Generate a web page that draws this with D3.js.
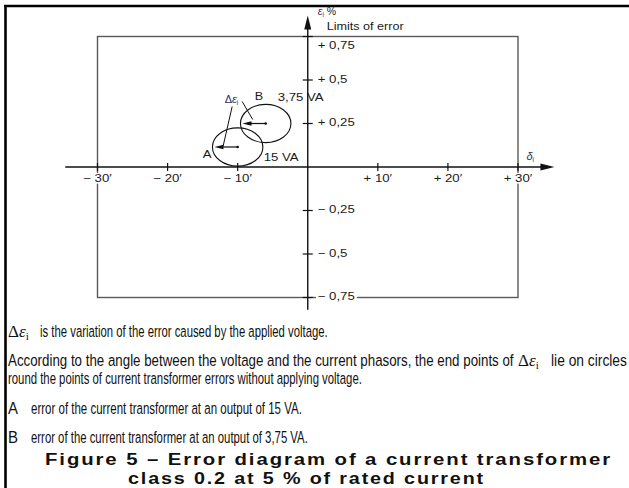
<!DOCTYPE html>
<html>
<head>
<meta charset="utf-8">
<script src="https://cdn.jsdelivr.net/npm/d3@7"></script>
<style>
  html, body { margin: 0; padding: 0; background: #fff; }
  svg { display: block; }
</style>
</head>
<body>
<script>
// Error diagram of a class 0.2 current transformer at 5 % of rated current
// δi (phase displacement, minutes) on x, εi (ratio error, %) on y.

const deltaTicks = [-30, -20, -10, 10, 20, 30];
const deltaTickLabels = ["− 30′", "− 20′", "− 10′", "+ 10′", "+ 20′", "+ 30′"];
const epsTicks = [0.75, 0.5, 0.25, -0.25, -0.5, -0.75];
const epsTickLabels = ["+ 0,75", "+ 0,5", "+ 0,25", "− 0,25", "− 0,5", "− 0,75"];

// limits of error (±30′, ±0,75 %)
const limitDelta = 30;
const limitEps = 0.75;

// current transformer errors without applied voltage
const pointNames = ["A", "B"];
const pointOutputs = ["15 VA", "3,75 VA"];
const pointDelta = [-10, -6];
const pointEps = [0.115, 0.25];
// radius of the Δεi circles, in minutes and in percent
const radiusDelta = 3.6;
const radiusEps = 0.11;

// axis extents
const deltaAxisExtent = [-34.6, 35.2];
const epsAxisExtent = [-0.82, 0.87];

const W = 629, H = 488;
const svg = d3.select("body").append("svg").attr("width", W).attr("height", H);

const x = d3.scaleLinear().domain([-30, 30]).range([97.5, 518]);
const y = d3.scaleLinear().domain([-0.75, 0.75]).range([297.5, 36.5]);

const chartFont = "'Liberation Sans', Arial, Helvetica, sans-serif";
const stretch = 1.2;

// page frame
svg.append("line").attr("x1", 4).attr("x2", W).attr("y1", 6).attr("y2", 6)
  .attr("stroke", "#000").attr("stroke-width", 2.6);
svg.append("line").attr("x1", 5.5).attr("x2", 5.5).attr("y1", 5).attr("y2", H)
  .attr("stroke", "#000").attr("stroke-width", 2.6);

// limits of error rectangle
svg.append("rect")
  .attr("x", x(-limitDelta)).attr("y", y(limitEps))
  .attr("width", x(limitDelta) - x(-limitDelta))
  .attr("height", y(-limitEps) - y(limitEps))
  .attr("fill", "none").attr("stroke", "#5a5a5a").attr("stroke-width", 1.4);

const x0 = x(0), y0 = y(0);

// axes
svg.append("line").attr("x1", x(deltaAxisExtent[0])).attr("x2", x(deltaAxisExtent[1]) - 6)
  .attr("y1", y0).attr("y2", y0).attr("stroke", "#111").attr("stroke-width", 1.4);
svg.append("path")
  .attr("d", `M${x(deltaAxisExtent[1])},${y0} l-14,-3.5 l0,7 z`).attr("fill", "#111");
svg.append("line").attr("x1", x0).attr("x2", x0)
  .attr("y1", y(epsAxisExtent[0])).attr("y2", y(epsAxisExtent[1]) + 6)
  .attr("stroke", "#111").attr("stroke-width", 1.4);
svg.append("path")
  .attr("d", `M${x0},${y(epsAxisExtent[1])} l-3.5,14 l7,0 z`).attr("fill", "#111");

// stretched label helper
function label(parent, px, py, txt, opts = {}) {
  const g = parent.append("g")
    .attr("transform", `translate(${px},${py}) scale(${opts.sx || stretch},1)`);
  const t = g.append("text")
    .attr("font-family", opts.family || chartFont)
    .attr("font-size", opts.size || 11)
    .attr("fill", opts.fill || "#1a1a1a")
    .attr("text-anchor", opts.anchor || "start")
    .attr("dominant-baseline", "middle")
    .text(txt);
  if (opts.italic) t.attr("font-style", "italic");
  if (opts.bg) {
    const b = t.node().getBBox();
    g.insert("rect", "text")
      .attr("x", b.x - 1.5).attr("y", b.y + 1)
      .attr("width", b.width + 3).attr("height", b.height - 2)
      .attr("fill", "#fff");
  }
  return g;
}

// delta ticks and labels
const xt = svg.append("g");
deltaTicks.forEach((d, i) => {
  xt.append("line").attr("x1", x(d)).attr("x2", x(d))
    .attr("y1", y0 - 4).attr("y2", y0 + 4).attr("stroke", "#111").attr("stroke-width", 1.2);
  label(xt, x(d), y0 + 12, deltaTickLabels[i], { anchor: "middle", bg: true });
});

// eps ticks and labels
const yt = svg.append("g");
epsTicks.forEach((e, i) => {
  yt.append("line").attr("x1", x0 - 5).attr("x2", x0 + 5)
    .attr("y1", y(e)).attr("y2", y(e)).attr("stroke", "#111").attr("stroke-width", 1.2);
  const dy = e === limitEps ? 9.5 : 0;
  label(yt, x0 + 10, y(e) + dy, epsTickLabels[i], { bg: true });
});

// axis titles
const ax = svg.append("g");
const epsTitle = ax.append("text").attr("x", x0 + 10).attr("y", 15)
  .attr("font-family", chartFont).attr("font-size", 10.5).attr("fill", "#2a2f6a");
epsTitle.append("tspan").attr("font-style", "italic").text("ε");
epsTitle.append("tspan").attr("font-size", 6.5).attr("dy", 2).text("i");
epsTitle.append("tspan").attr("dy", -2).attr("fill", "#222").text("  %");
label(ax, x0 + 19, 27, "Limits of error", { size: 10.5 });
const deltaTitle = ax.append("text").attr("x", x(31.2)).attr("y", y0 - 7)
  .attr("font-family", chartFont).attr("font-size", 11).attr("fill", "#2a2f6a");
deltaTitle.append("tspan").attr("font-style", "italic").text("δ");
deltaTitle.append("tspan").attr("font-size", 6.5).attr("dy", 2).text("i");

// error points with Δεi circles and phasors
const pts = svg.append("g");
pointNames.forEach((n, i) => {
  const cx = x(pointDelta[i]), cy = y(pointEps[i]);
  const rx = x(pointDelta[i] + radiusDelta) - cx;
  const ry = cy - y(pointEps[i] + radiusEps);
  pts.append("ellipse").attr("cx", cx).attr("cy", cy).attr("rx", rx).attr("ry", ry)
    .attr("fill", "none").attr("stroke", "#111").attr("stroke-width", 1.1);
  const tip = x(pointDelta[i] - radiusDelta) + 2;
  pts.append("line").attr("x1", cx).attr("x2", tip + 6).attr("y1", cy).attr("y2", cy)
    .attr("stroke", "#111").attr("stroke-width", 1.2);
  pts.append("path").attr("d", `M${tip},${cy} l9,-2.2 l0,4.4 z`).attr("fill", "#111");
  pts.append("circle").attr("cx", cx).attr("cy", cy).attr("r", 1.3).attr("fill", "#111");
});

// annotations
const aA = [x(pointDelta[0]), y(pointEps[0])];
const aB = [x(pointDelta[1]), y(pointEps[1])];
label(pts, aA[0] - 35, aA[1] + 8, pointNames[0], { size: 11 });
label(pts, aA[0] + 26, aA[1] + 11, pointOutputs[0], { size: 11 });
label(pts, aB[0] - 11, aB[1] - 26, pointNames[1], { size: 10.5 });
label(pts, aB[0] + 12, aB[1] - 25, pointOutputs[1], { size: 11 });
const dl = pts.append("text").attr("x", aA[0] - 13).attr("y", aB[1] - 21)
  .attr("font-family", chartFont)
  .attr("font-size", 11).attr("fill", "#2a2f6a");
dl.append("tspan").text("Δ");
dl.append("tspan").attr("font-style", "italic").text("ε");
dl.append("tspan").attr("font-size", 6.5).attr("dy", 2).text("i");
pts.append("line").attr("x1", aA[0] - 5.5).attr("y1", aB[1] - 17)
  .attr("x2", aA[0] - 14.5).attr("y2", aA[1] - 1).attr("stroke", "#111").attr("stroke-width", 1);
pts.append("line").attr("x1", aA[0] + 4.5).attr("y1", aB[1] - 22)
  .attr("x2", aB[0] - 13).attr("y2", aB[1] - 4).attr("stroke", "#111").attr("stroke-width", 1);

// explanatory text
const narrow = "'Liberation Sans Narrow', 'Arial Narrow', 'Liberation Sans', Arial, sans-serif";
const serif = "'Liberation Serif', 'Times New Roman', serif";
const notes = svg.append("g").attr("fill", "#111");

function deltaEps(px, py) {
  const t = notes.append("text").attr("x", px).attr("y", py)
    .attr("font-family", serif).attr("font-size", 17);
  t.append("tspan").text("Δ");
  t.append("tspan").attr("font-style", "italic").text("ε");
  t.append("tspan").attr("font-size", 11).attr("dy", 3).text("i");
}
// a line of text squeezed horizontally to the given width
function note(px, py, txt, len, size = 16.5) {
  const g = notes.append("g");
  const t = g.append("text")
    .attr("font-family", narrow).attr("font-size", size)
    .text(txt);
  const natural = t.node().getComputedTextLength();
  g.attr("transform", `translate(${px},${py}) scale(${len / natural},1)`);
}

deltaEps(8, 337);
note(40, 337, "is the variation of the error caused by the applied voltage.", 288);
note(8, 366, "According to the angle between the voltage and the current phasors, the end points of", 506);
deltaEps(518, 366);
note(551, 366, "lie on circles", 76);
note(8, 384, "round the points of current transformer errors without applying voltage.", 354);
note(8, 414, "A", 10);
note(31, 414, "error of the current transformer at an output of 15 VA.", 271);
note(8, 443, "B", 10);
note(31, 443, "error of the current transformer at an output of 3,75 VA.", 277);

// caption
const cap = svg.append("g").attr("fill", "#111")
  .attr("font-family", "'Liberation Sans', Arial, sans-serif")
  .attr("font-weight", "bold").attr("font-size", 16)
  .attr("letter-spacing", 1.5);
cap.append("text").attr("x", 45).attr("y", 465)
  .attr("textLength", 567).attr("lengthAdjust", "spacingAndGlyphs")
  .text("Figure 5 – Error diagram of a current transformer");
cap.append("text").attr("x", 128).attr("y", 484)
  .attr("textLength", 357).attr("lengthAdjust", "spacingAndGlyphs")
  .text("class 0.2 at 5 % of rated current");
</script>
</body>
</html>
